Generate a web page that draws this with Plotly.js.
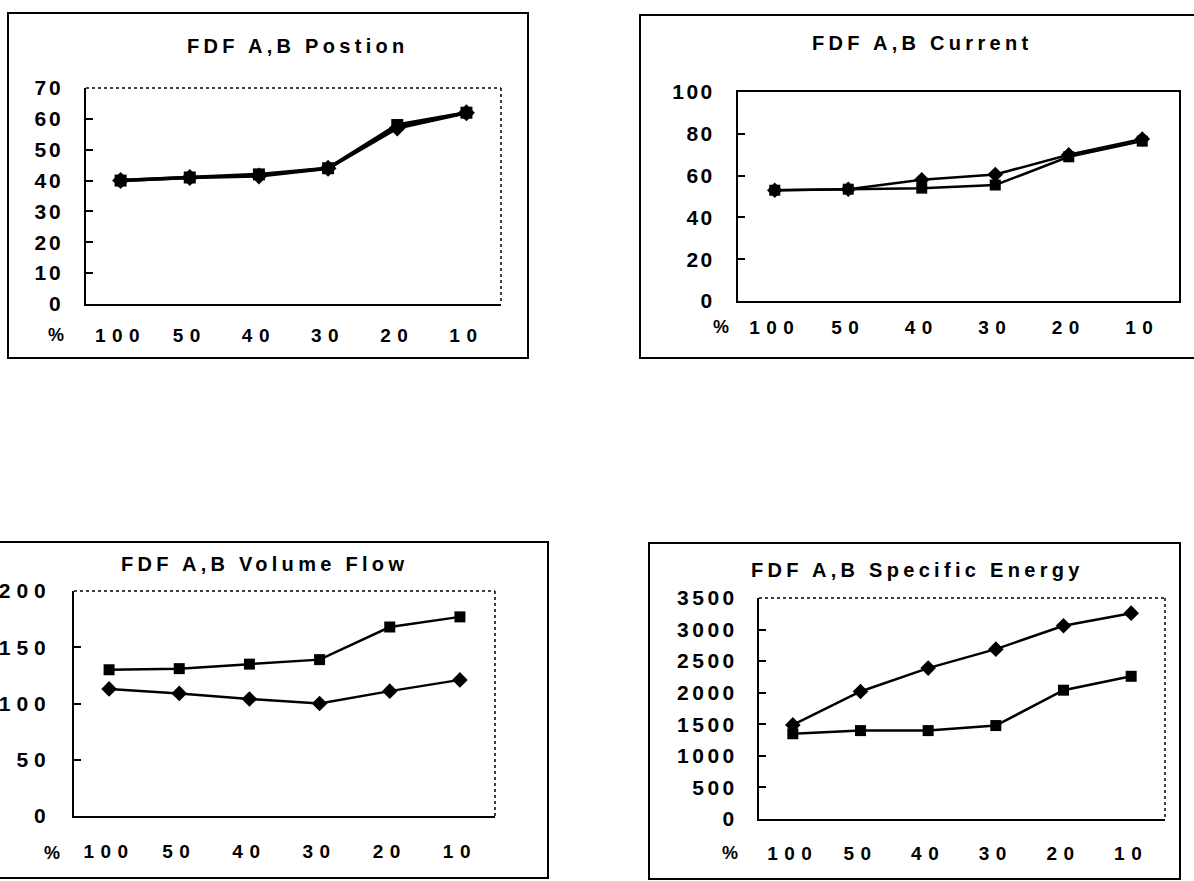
<!DOCTYPE html>
<html>
<head>
<meta charset="utf-8">
<script src="https://cdn.plot.ly/plotly-3.0.1.min.js"></script>
<style>
  html, body { margin: 0; padding: 0; background: #fff; }
  #chart { width: 1194px; height: 881px; }
  .xaxislayer-above text { letter-spacing: 6.5px; }
  .ytick text { letter-spacing: 3px; }
  .y2tick text { letter-spacing: 2.5px; }
  .y3tick text { letter-spacing: 6px; }
  .y4tick text { letter-spacing: 3.5px; }
  .annotation-text { letter-spacing: 4.3px; }
</style>
</head>
<body>
<div id="chart"></div>
<script>
// ---- data ----
const categories = ['100', '50', '40', '30', '20', '10'];
const axisUnitLabel = '%';

const titles = ['FDF A,B Postion', 'FDF A,B Current', 'FDF A,B Volume Flow', 'FDF A,B Specific Energy'];

const positionSquare = [40, 41, 42, 44, 58, 62];
const positionDiamond = [40, 41, 41.5, 44, 57, 62];

const currentSquare = [53, 53.5, 54, 55.5, 69, 76.5];
const currentDiamond = [53, 53.5, 58, 60.5, 70, 77.5];

const flowSquare = [130, 131, 135, 139, 168, 177];
const flowDiamond = [113, 109, 104, 100, 111, 121];

const energySquare = [1350, 1400, 1400, 1480, 2040, 2260];
const energyDiamond = [1490, 2020, 2390, 2690, 3060, 3260];

// ---- layout helpers ----
const W = 1194, H = 881;
const px = x => x / W;
const py = y => 1 - y / H;

const panels = [
  { sq: positionSquare, di: positionDiamond, range: [0, 70], dtick: 10,
    plot: [86, 501, 88, 304], box: [8, 528, 13, 358], title: [298, 46], pct: [58, 335],
    lw: 3.5, ms: 12, xStand: 13, yStand: 16, solidFrame: false },
  { sq: currentSquare, di: currentDiamond, range: [0, 100], dtick: 20,
    plot: [738, 1179, 92, 301], box: [640, 1200, 15, 358], title: [922, 43], pct: [723, 327],
    lw: 2.5, ms: 11, xStand: 8, yStand: 17, solidFrame: true },
  { sq: flowSquare, di: flowDiamond, range: [0, 200], dtick: 50,
    plot: [74, 495, 591, 816], box: [-5, 548, 542, 878], title: [264, 564], pct: [54, 853],
    lw: 2.5, ms: 11, xStand: 17, yStand: 16, solidFrame: false },
  { sq: energySquare, di: energyDiamond, range: [0, 3500], dtick: 500,
    plot: [759, 1165, 598, 819], box: [649, 1180, 543, 879], title: [917, 570], pct: [732, 853],
    lw: 2.5, ms: 11, xStand: 16, yStand: 15, solidFrame: false }
];

const traces = [];
const layout = {
  width: W, height: H,
  margin: { l: 0, r: 0, t: 0, b: 0 },
  paper_bgcolor: '#fff', plot_bgcolor: '#fff',
  showlegend: false,
  font: { family: 'Liberation Sans, Arial, sans-serif', color: '#000' },
  shapes: [], annotations: []
};

panels.forEach((p, i) => {
  const n = i + 1;
  const xa = n === 1 ? 'x' : 'x' + n;
  const ya = n === 1 ? 'y' : 'y' + n;
  const xKey = n === 1 ? 'xaxis' : 'xaxis' + n;
  const yKey = n === 1 ? 'yaxis' : 'yaxis' + n;
  const lineStyle = { color: '#000', width: p.lw };

  traces.push({
    type: 'scatter', mode: 'lines+markers', x: categories, y: p.sq,
    xaxis: xa, yaxis: ya, line: lineStyle,
    marker: { symbol: 'square', size: p.ms, color: '#000' }, cliponaxis: false
  });
  traces.push({
    type: 'scatter', mode: 'lines+markers', x: categories, y: p.di,
    xaxis: xa, yaxis: ya, line: lineStyle,
    marker: { symbol: 'diamond', size: p.ms + 1, color: '#000' }, cliponaxis: false
  });

  const [x0, x1, y0, y1] = p.plot;
  layout[xKey] = {
    domain: [px(x0), px(x1)], anchor: ya, type: 'category',
    range: [-0.5, 5.5], showgrid: false, zeroline: false,
    showline: true, linecolor: '#000', linewidth: 2,
    mirror: p.solidFrame ? true : false,
    ticks: '', ticklabelstandoff: p.xStand, fixedrange: true,
    tickfont: { family: 'Liberation Sans, Arial, sans-serif', size: 19, color: '#000', weight: 'bold' }
  };
  layout[yKey] = {
    domain: [py(y1), py(y0)], anchor: xa,
    range: p.range, dtick: p.dtick, showgrid: false, zeroline: false,
    showline: true, linecolor: '#000', linewidth: 2,
    mirror: p.solidFrame ? true : false,
    ticks: 'inside', ticklen: 7, tickwidth: 2, tickcolor: '#000',
    ticklabelstandoff: p.yStand, fixedrange: true,
    tickfont: { family: 'Liberation Sans, Arial, sans-serif', size: 21, color: '#000', weight: 'bold' }
  };

  if (!p.solidFrame) {
    layout.shapes.push({ type: 'line', xref: 'paper', yref: 'paper',
      x0: px(x0), x1: px(x1), y0: py(y0), y1: py(y0), line: { color: '#000', width: 1.5, dash: 'dot' } });
    layout.shapes.push({ type: 'line', xref: 'paper', yref: 'paper',
      x0: px(x1), x1: px(x1), y0: py(y0), y1: py(y1), line: { color: '#000', width: 1.5, dash: 'dot' } });
  }

  const [bx0, bx1, by0, by1] = p.box;
  layout.shapes.push({ type: 'rect', xref: 'paper', yref: 'paper',
    x0: px(bx0), x1: px(bx1), y0: py(by1), y1: py(by0),
    line: { color: '#000', width: 2 }, fillcolor: 'rgba(0,0,0,0)', layer: 'below' });

  layout.annotations.push({ xref: 'paper', yref: 'paper', x: px(p.title[0]), y: py(p.title[1]),
    text: titles[i], showarrow: false, xanchor: 'center', yanchor: 'middle',
    font: { family: 'Liberation Sans, Arial, sans-serif', size: 20, color: '#000', weight: 'bold' } });

  layout.annotations.push({ xref: 'paper', yref: 'paper', x: px(p.pct[0]), y: py(p.pct[1]),
    text: axisUnitLabel, showarrow: false, xanchor: 'center', yanchor: 'middle',
    font: { family: 'Liberation Sans, Arial, sans-serif', size: 18, color: '#000', weight: 'bold' } });
});

Plotly.newPlot('chart', traces, layout, { staticPlot: true, displayModeBar: false });
</script>
</body>
</html>
